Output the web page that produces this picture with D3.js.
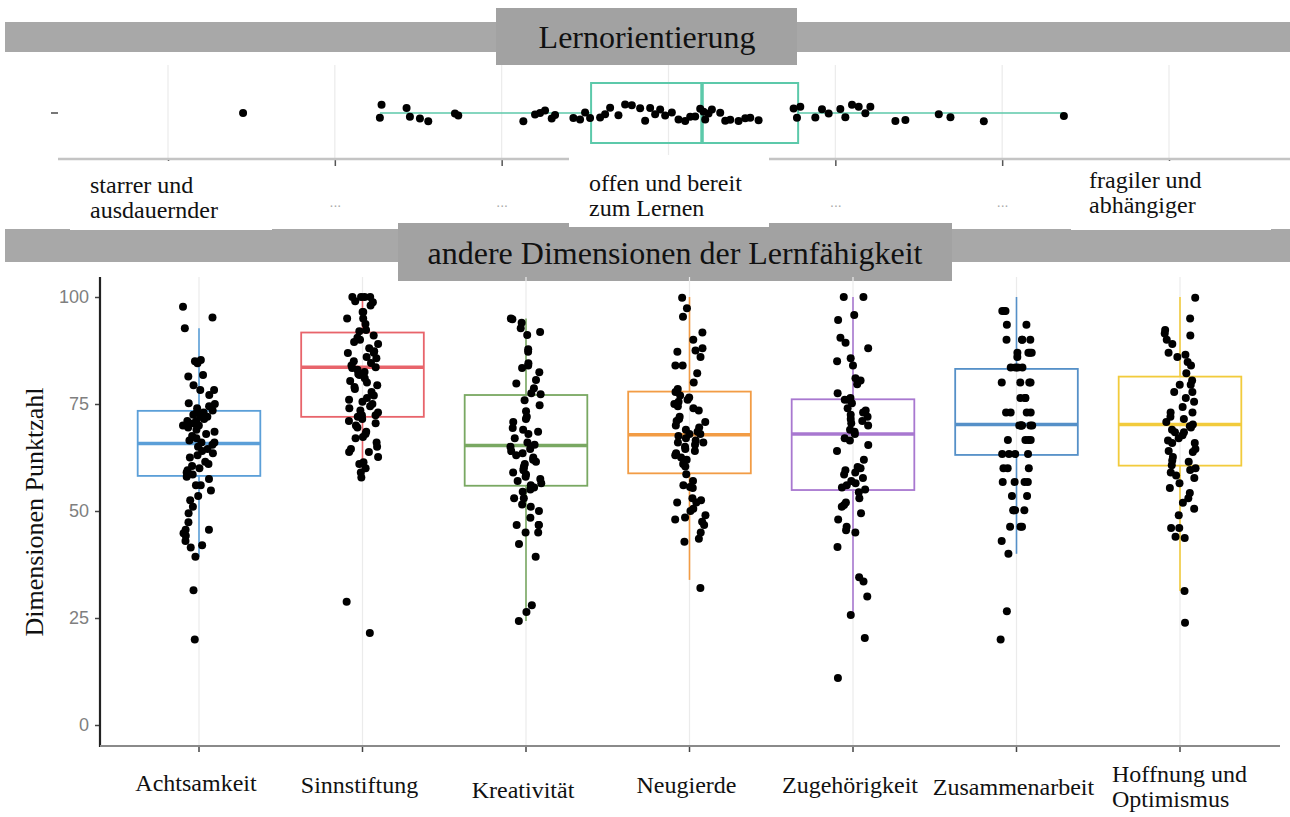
<!DOCTYPE html>
<html><head><meta charset="utf-8">
<script src="https://cdn.jsdelivr.net/npm/d3@7"></script>
<style>body{margin:0;background:#fff;} svg{display:block}</style>
</head><body>
<svg id="c" width="1290" height="817"></svg>
<script>
// ---------------- DATA ----------------
const categories = ["Achtsamkeit","Sinnstiftung","Kreativität","Neugierde","Zugehörigkeit","Zusammenarbeit","Hoffnung und Optimismus"];
const q1          = [58.2, 72.0, 55.9, 58.8, 54.9, 63.1, 60.6];
const medians     = [65.8, 83.6, 65.3, 67.8, 68.0, 70.2, 70.2];
const q3          = [73.4, 91.7, 77.1, 77.9, 76.1, 83.2, 81.4];
const whiskerLow  = [39.3, 57.8, 24.3, 33.9, 25.7, 40.0, 31.3];
const whiskerHigh = [92.7, 100, 95.0, 100, 100, 100, 100];
const colors = ["#5b9fd8","#e8646b","#79a862","#f29c45","#a878d0","#5590c8","#f2cb3c"];

const ptsAchtsamkeit = [97.7,95.2,92.7,85.3,85,84.5,81.8,81.4,79.4,78.3,78.3,77.1,75.2,75,74.5,74,73.5,73,73,72.5,72,72,71.5,71,71,70.5,70,70,69.5,69,68.5,68,67.5,67,66.5,66,66,65.5,65,64.5,64,63.5,63,62.5,61.5,61,60.5,60,59.5,59,58.5,58,57.5,56,56,54.8,53.5,52.5,51,49.5,47.4,45.6,45.6,44.8,44.2,43,42,41.5,39.3,31.5,20];
const ptsSinnstiftung = [100,100,100,100,99,98.8,98,96.5,96.5,95,95,93.7,92.3,92,91,90.5,90,89.5,89,88,87.3,87,86.9,86,85.7,85,84.6,84,83.6,83.4,83,82.5,82,81.8,81,80.4,80,79.4,79,78.5,77.8,77,76.4,76,75.5,75,74.5,74,73.5,73,72.4,72.4,72,71.5,71,70.5,70,69.5,68.5,68,67.3,67,66,65,64.5,63.8,63.8,62.6,61.4,61,60,59,57.8,28.8,21.5];
const ptsKreativitaet = [95,94.8,94,92.7,91.8,91.1,87.8,87.2,84.5,84,83.4,82.4,80.6,79.8,78.7,77.5,77.3,75.9,74.7,73.3,72,71.5,70.8,69.4,69,68.5,68,67,66,65.5,65,64.5,64,63.5,63,62.5,62,61.5,61,60.4,60,59.5,59,58.5,58,57.5,57,56.5,56,55.5,55,54.5,53,53,51.5,51,50,48.4,46.7,46.7,46.7,45,45,42.3,39.3,28,26.4,24.3];
const ptsNeugierde = [99.8,97.4,95.4,91.7,90,88,87.5,87.2,86,84,84,82.2,80,78.5,77.8,77,76.5,76,75.5,75,74.5,74,73.5,72,71.5,71,70.8,70,69.5,69,68.5,68,68,67.5,67,66.5,66,66,65.5,65,64.5,64,63.5,63,62.5,62,61,60.4,58.6,57,56,55.6,55.4,53,52.5,52,52,50.5,50,49,48.5,48,47.5,46.7,45,43.5,42.8,32];
const ptsZugehoerigkeit = [100,100,95.8,94.6,90.5,89.3,88,85.7,85,84,81,80.5,79.6,77.5,76.4,76,76,75.2,74,73.5,73,72.5,72,71.5,71,70.5,70,69,68.5,68,67,66.5,65.4,64,62,60.3,60,59.5,59,58.5,57.7,57,56.5,56,55.5,55,54.4,53,52,51.4,51,49.5,48,46.3,45.5,45,41.6,34.5,33.5,30,25.7,20.3,11];
const ptsZusammenarbeit = [96.7,96.7,96.7,93.5,93.5,90,90,90,90,87,87,87,87,86,83.5,83.5,83.5,83.5,80,80,80,80,76.4,76.4,76.4,73,73,73,73,70,70,70,70,70,70,66.6,66.6,66.6,66.6,63.3,63.3,63.3,63.3,60,60,60,56.8,56.8,56.8,56.8,53.5,53.5,50.2,50.2,50.2,50.2,46.3,46.3,46.3,43,40,26.6,20];
const ptsHoffnung = [99.8,95,92.3,91.5,91,90,89,87,86.5,86,84.8,84,82.2,80.5,79.5,79.5,77.8,77.8,76.4,75.5,74.3,73,73,72,71.5,70.8,70.2,69.8,69.5,69,68.4,68.4,67.7,67,66.5,65.9,65.9,64.5,64,63.8,62.6,61.8,61.5,60.7,60,59.6,59,58.3,57.7,56.5,55.4,54.2,53,51.9,50.5,49,46,46,44,43.7,31.3,23.9];
const pointSets = [ptsAchtsamkeit, ptsSinnstiftung, ptsKreativitaet, ptsNeugierde, ptsZugehoerigkeit, ptsZusammenarbeit, ptsHoffnung];
const yTicks = [0, 25, 50, 75, 100];

// top panel (Lernorientierung)
const topStats = [1.271, 2.536, 3.201, 3.777, 5.366]; // whisker low, q1, median, q3, whisker high
const topOutliers = [0.45];
const topPoints = [1.27,1.28,1.43,1.45,1.51,1.56,1.72,1.74,2.13,2.20,2.23,2.26,2.30,2.32,2.43,2.47,2.50,2.53,2.59,2.62,2.65,2.70,2.74,2.78,2.83,2.86,2.89,2.92,2.95,2.98,3.02,3.06,3.10,3.13,3.16,3.19,3.21,3.22,3.24,3.26,3.31,3.34,3.37,3.42,3.46,3.49,3.54,3.75,3.77,3.79,3.88,3.92,3.96,4.03,4.06,4.10,4.14,4.18,4.21,4.36,4.42,4.62,4.69,4.89,5.37];
const topTicks = [0,1,2,3,4,5,6];
const topTickLabels = ["","...","...","","...","...",""];
const topLabels = [["starrer und","ausdauernder"],["offen und bereit","zum Lernen"],["fragiler und","abhängiger"]];
const panelTitles = ["Lernorientierung","andere Dimensionen der Lernfähigkeit"];
const yTitle = "Dimensionen Punktzahl";

// ---------------- DRAW ----------------
const svg = d3.select("#c");
const serif = "'Liberation Serif','Times New Roman',serif";
const sans = "'Liberation Sans',Arial,sans-serif";
function jit(i,k){ const s=Math.sin(i*12.9898+k*78.233)*43758.5453; return (s-Math.floor(s))*2-1; }

// ---- top panel ----
const xt = d3.scaleLinear().domain([0,6]).range([168,1169]);
const topY = 113;
svg.append("rect").attr("x",5).attr("y",22).attr("width",1285).attr("height",30).attr("fill","#a8a8a8");
svg.append("g").selectAll("line").data(topTicks).join("line")
  .attr("x1",d=>xt(d)).attr("x2",d=>xt(d)).attr("y1",65).attr("y2",158)
  .attr("stroke","#ebebeb").attr("stroke-width",1.2);
svg.append("line").attr("x1",51).attr("x2",58).attr("y1",topY).attr("y2",topY).attr("stroke","#777").attr("stroke-width",2);
const tc = "#5cc9aa";
svg.append("line").attr("x1",xt(topStats[0])).attr("x2",xt(topStats[1])).attr("y1",topY).attr("y2",topY).attr("stroke",tc).attr("stroke-width",1.6);
svg.append("line").attr("x1",xt(topStats[3])).attr("x2",xt(topStats[4])).attr("y1",topY).attr("y2",topY).attr("stroke",tc).attr("stroke-width",1.6);
svg.append("rect").attr("x",xt(topStats[1])).attr("y",83).attr("width",xt(topStats[3])-xt(topStats[1])).attr("height",60)
  .attr("fill","none").attr("stroke",tc).attr("stroke-width",2);
svg.append("line").attr("x1",xt(topStats[2])).attr("x2",xt(topStats[2])).attr("y1",83).attr("y2",143).attr("stroke",tc).attr("stroke-width",3.5);
svg.append("g").selectAll("circle").data(topPoints.concat(topOutliers)).join("circle")
  .attr("cx",d=>xt(d)).attr("cy",(d,i)=>topY + (i===topPoints.length?0:jit(i,11)*8.5)).attr("r",4).attr("fill","#000");
const axTop = svg.append("g").attr("transform","translate(0,159)")
  .call(d3.axisBottom(xt).tickValues(topTicks).tickSize(7).tickPadding(31).tickFormat((d,i)=>topTickLabels[i]));
axTop.select(".domain").remove();
axTop.selectAll(".tick line").attr("stroke","#555").attr("stroke-width",1.5);
axTop.selectAll(".tick text").attr("fill","#aaa").attr("font-size",14).attr("font-family",sans);
svg.append("line").attr("x1",58).attr("x2",1290).attr("y1",159).attr("y2",159).attr("stroke","#c4c4c4").attr("stroke-width",2.5);

// ---- bottom strip and title ----
svg.append("rect").attr("x",5).attr("y",229).attr("width",1285).attr("height",33).attr("fill","#a8a8a8");
svg.append("rect").attr("x",398).attr("y",223).attr("width",554).attr("height",58).attr("fill","#a2a2a2");
svg.append("text").attr("x",675).attr("y",264).attr("text-anchor","middle").attr("font-family",serif).attr("font-size",32).attr("fill","#111").text(panelTitles[1]);

svg.append("rect").attr("x",496).attr("y",8).attr("width",301).attr("height",57).attr("fill","#a2a2a2");
svg.append("text").attr("x",647).attr("y",48).attr("text-anchor","middle").attr("font-family",serif).attr("font-size",32).attr("fill","#111").text(panelTitles[0]);

// white label boxes
const boxes = [{x:70,y:161,w:202,h:69,tx:90,ty:193},{x:569,y:155,w:200,h:72,tx:589,ty:191},{x:1071,y:161,w:200,h:69,tx:1089,ty:188}];
boxes.forEach((b,i)=>{
  svg.append("rect").attr("x",b.x).attr("y",b.y).attr("width",b.w).attr("height",b.h).attr("fill","#fff");
  const t = svg.append("text").attr("x",b.tx).attr("y",b.ty).attr("font-family",serif).attr("font-size",24).attr("fill","#111");
  topLabels[i].forEach((l,j)=>t.append("tspan").attr("x",b.tx).attr("dy",j?25:0).text(l));
});

// ---- bottom panel ----
const x = d3.scaleBand().domain(categories).range([117.25,1261.75]).padding(0);
const y = d3.scaleLinear().domain([0,100]).range([725,297]);
const cx = c => x(c)+x.bandwidth()/2;
const bw = x.bandwidth()*0.75;

svg.append("g").selectAll("line").data(categories).join("line")
  .attr("x1",cx).attr("x2",cx).attr("y1",277).attr("y2",745).attr("stroke","#ebebeb").attr("stroke-width",1.2);

categories.forEach((c,i)=>{
  const g = svg.append("g");
  const col = colors[i], xc = cx(c);
  g.append("line").attr("x1",xc).attr("x2",xc).attr("y1",y(whiskerHigh[i])).attr("y2",y(q3[i])).attr("stroke",col).attr("stroke-width",1.6);
  g.append("line").attr("x1",xc).attr("x2",xc).attr("y1",y(q1[i])).attr("y2",y(whiskerLow[i])).attr("stroke",col).attr("stroke-width",1.6);
  g.append("rect").attr("x",xc-bw/2).attr("y",y(q3[i])).attr("width",bw).attr("height",y(q1[i])-y(q3[i]))
    .attr("fill","none").attr("stroke",col).attr("stroke-width",1.8);
  g.append("line").attr("x1",xc-bw/2).attr("x2",xc+bw/2).attr("y1",y(medians[i])).attr("y2",y(medians[i])).attr("stroke",col).attr("stroke-width",3.5);
});
categories.forEach((c,i)=>{
  svg.append("g").selectAll("circle").data(pointSets[i]).join("circle")
    .attr("cx",(d,j)=>cx(c)+jit(j,i)*16).attr("cy",d=>y(d)).attr("r",4).attr("fill","#000");
});

// y axis
const ay = svg.append("g").attr("transform","translate(100,0)")
  .call(d3.axisLeft(y).tickValues(yTicks).tickSize(5).tickPadding(6));
ay.select(".domain").remove();
ay.selectAll(".tick line").attr("stroke","#444").attr("stroke-width",1.5);
ay.selectAll(".tick text").attr("fill","#7f7f7f").attr("font-size",18).attr("font-family",sans);
svg.append("line").attr("x1",100).attr("x2",100).attr("y1",277).attr("y2",747).attr("stroke","#222").attr("stroke-width",2.2);

// x axis
const ax = svg.append("g").attr("transform","translate(0,746)")
  .call(d3.axisBottom(x).tickSize(6).tickFormat(""));
ax.select(".domain").remove();
ax.selectAll(".tick line").attr("stroke","#444").attr("stroke-width",1.5);
svg.append("line").attr("x1",100).attr("x2",1280).attr("y1",746).attr("y2",746).attr("stroke","#8a8a8a").attr("stroke-width",2.2);

// category labels
const labelY = [791,793,798,793,793,795,782];
categories.forEach((c,i)=>{
  if (i === categories.length-1) {
    const t = svg.append("text").attr("x",1112).attr("y",labelY[i]).attr("font-family",serif).attr("font-size",24).attr("fill","#111");
    t.append("tspan").attr("x",1112).text("Hoffnung und");
    t.append("tspan").attr("x",1112).attr("dy",25).text("Optimismus");
  } else {
    svg.append("text").attr("x",cx(c)-3).attr("y",labelY[i]).attr("text-anchor","middle").attr("font-family",serif).attr("font-size",24).attr("fill","#111").text(c);
  }
});

// y title
svg.append("text").attr("transform","translate(43,512) rotate(-90)").attr("text-anchor","middle")
  .attr("font-family",serif).attr("font-size",26).attr("fill","#111").text(yTitle);
</script>
</body></html>
